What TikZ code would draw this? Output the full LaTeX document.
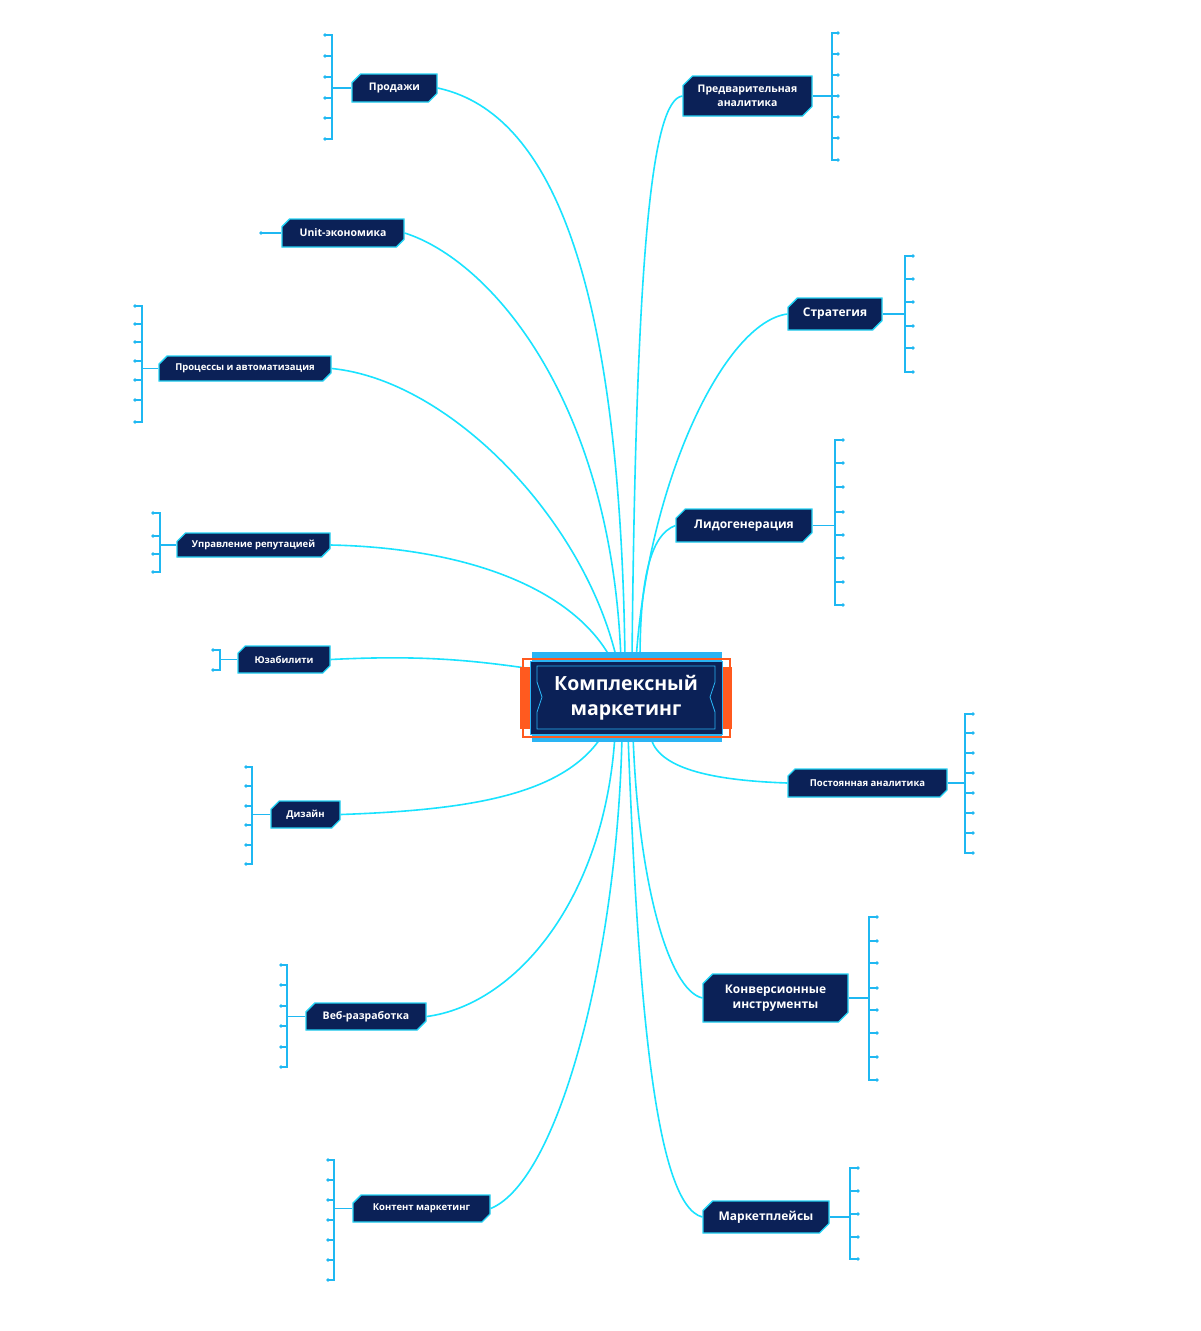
\documentclass[tikz,border=0pt]{standalone}
\usepackage{fontspec}
\setmainfont{Open Sans}
\usetikzlibrary{shapes.misc,backgrounds}
\definecolor{navy}{HTML}{0B2157}
\definecolor{edgecyan}{HTML}{22D3F5}
\definecolor{linkcyan}{HTML}{19E3FF}
\definecolor{fancyan}{HTML}{1FB8F2}
\definecolor{hubsky}{HTML}{2AB4F4}
\definecolor{hubred}{HTML}{FF5A1F}
% small bracket of leaves beside a topic: node, side, spine x, tip x, tick ys
\newcommand{\branchfan}[5]{%
  \coordinate (#1-j) at (#1.#2 -| #3,0);
  \draw[fanline] (#1.#2) -- (#1-j);
  \foreach \ty in {#5} \draw[fanline] (#1-j) |- (#4,-\ty) node[tip] {};
}
\tikzset{
  topic/.style={chamfered rectangle, chamfered rectangle corners={north west,south east},
    chamfered rectangle xsep=6pt, fill=navy, draw=edgecyan, line width=1.3pt,
    text=white, align=center, inner sep=0pt},
  big/.style={font=\bfseries\fontsize{12pt}{15pt}\selectfont},
  mid/.style={font=\bfseries\fontsize{10.5pt}{13.5pt}\selectfont},
  small/.style={font=\bfseries\fontsize{9.5pt}{12pt}\selectfont},
  hub/.style={rectangle, fill=navy, draw=hubsky, line width=1pt, text=white, align=center,
    font=\bfseries\fontsize{19.5pt}{25pt}\selectfont, minimum width=192pt, minimum height=73pt, inner sep=0pt},
  link/.style={draw=linkcyan, line width=1.6pt},
  fanline/.style={draw=fancyan, line width=1.5pt},
  tip/.style={circle, fill=fancyan, inner sep=1.3pt},
}
\begin{document}
\begin{tikzpicture}[x=1pt,y=1pt]
\useasboundingbox (0,0) rectangle (1200,-1331);
% central frame
\fill[hubsky] (532,-652) rectangle (722,-742);
\draw[hubred, line width=1.6pt] (523,-659) rectangle (730,-737);
\fill[hubred] (520,-667) rectangle (530,-729);
\fill[hubred] (722,-667) rectangle (732,-729);
\node[hub] (hub) at (626,-697.5) {Комплексный\\маркетинг};
\draw[hubsky, line width=0.8pt] (537,-666) -- (715,-666) -- (715,-682) -- (710,-697) -- (715,-712)
  -- (715,-729) -- (537,-729) -- (537,-712) -- (542,-697) -- (537,-682) -- cycle;
% left topics
\node[topic, mid, minimum width=85pt, minimum height=28pt] (prod) at (394.5,-88) {Продажи};
\node[topic, mid, minimum width=122pt, minimum height=28pt] (unit) at (343,-233) {Unit-экономика};
\node[topic, small, minimum width=172pt, minimum height=25pt] (proc) at (245,-368.5) {Процессы и автоматизация};
\node[topic, small, minimum width=153pt, minimum height=24pt] (rep) at (253.5,-545) {Управление репутацией};
\node[topic, small, minimum width=92pt, minimum height=27pt] (uzab) at (284,-659.5) {Юзабилити};
\node[topic, small, minimum width=69pt, minimum height=27pt] (diz) at (305.5,-814.5) {Дизайн};
\node[topic, mid, minimum width=120pt, minimum height=27pt] (web) at (366,-1016.5) {Веб-разработка};
\node[topic, small, minimum width=137pt, minimum height=27pt] (kont) at (421.5,-1208.5) {Контент маркетинг};
% right topics
\node[topic, mid, minimum width=129pt, minimum height=40pt] (pred) at (747.5,-96) {Предварительная\\аналитика};
\node[topic, big, minimum width=94pt, minimum height=32pt] (strat) at (835,-314) {Стратегия};
\node[topic, big, minimum width=136pt, minimum height=33pt] (lid) at (744,-525.5) {Лидогенерация};
\node[topic, small, minimum width=159pt, minimum height=28pt] (post) at (867.5,-783) {Постоянная аналитика};
\node[topic, big, minimum width=145pt, minimum height=48pt] (konv) at (775.5,-998) {Конверсионные\\инструменты};
\node[topic, big, minimum width=126pt, minimum height=32pt] (mark) at (766,-1217) {Маркетплейсы};
\begin{pgfonlayer}{background}
\fill[white] (0,0) rectangle (1200,-1331);
% connectors to the hub
\draw[link] (prod.east) .. controls (540,-110) and (620,-250) .. ([xshift=-1pt]hub.north);
\draw[link] (unit.east) .. controls (490,-260) and (612,-400) .. ([xshift=-5pt]hub.north);
\draw[link] (proc.east) .. controls (450,-380) and (585,-520) .. ([xshift=-9pt]hub.north);
\draw[link] (rep.east) .. controls (470,-548) and (575,-590) .. ([xshift=-14pt]hub.north);
\draw[link] (uzab.east) .. controls (420,-655) and (470,-660) .. ([yshift=29pt]hub.west);
\draw[link] (diz.east) .. controls (470,-810) and (565,-795) .. ([xshift=-23pt]hub.south);
\draw[link] (web.east) .. controls (515,-1005) and (605,-900) .. ([xshift=-11pt]hub.south);
\draw[link] (kont.east) .. controls (560,-1180) and (618,-950) .. ([xshift=-4pt]hub.south);
\draw[link] (pred.west) .. controls (652,-100) and (636,-250) .. ([xshift=6pt]hub.north);
\draw[link] (strat.west) .. controls (725,-322) and (648,-480) .. ([xshift=10pt]hub.north);
\draw[link] (lid.west) .. controls (650,-535) and (640,-580) .. ([xshift=14pt]hub.north);
\draw[link] (post.west) .. controls (700,-780) and (655,-765) .. ([xshift=24pt]hub.south);
\draw[link] (konv.west) .. controls (668,-990) and (638,-880) .. ([xshift=7pt]hub.south);
\draw[link] (mark.west) .. controls (655,-1205) and (638,-1000) .. ([xshift=2pt]hub.south);
% leaf brackets
\branchfan{prod}{west}{332}{325}{35,56,77,98,118,139}
\branchfan{unit}{west}{268}{261}{233}
\branchfan{proc}{west}{142}{135}{306,324,342,361,380,400,422}
\branchfan{rep}{west}{160}{153}{513,536,554,572}
\branchfan{uzab}{west}{220}{213}{650,670}
\branchfan{diz}{west}{252}{246}{767,786,806,825,845,864}
\branchfan{web}{west}{287}{281}{965,985,1006,1026,1047,1067}
\branchfan{kont}{west}{334}{328}{1160,1180,1200,1220,1240,1260,1280}
\branchfan{pred}{east}{832}{838}{33,54,75,96,117,138,160}
\branchfan{strat}{east}{905}{913}{256,279,302,326,348,372}
\branchfan{lid}{east}{835}{843}{440,463,487,512,535,558,582,605}
\branchfan{post}{east}{965}{973}{714,733,753,773,793,813,833,853}
\branchfan{konv}{east}{869}{877}{917,941,963,988,1010,1033,1057,1080}
\branchfan{mark}{east}{850}{858}{1168,1191,1214,1237,1259}
\end{pgfonlayer}
\end{tikzpicture}
\end{document}
